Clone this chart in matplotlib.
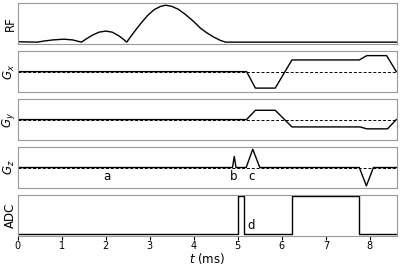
"""Pulse sequence diagram: RF, gradients and ADC."""

import matplotlib
matplotlib.use("Agg")
import matplotlib.pyplot as plt

# RF envelope
rf_t = [0.0, 0.45, 0.6, 0.8, 1.05, 1.25, 1.35, 1.45, 1.55, 1.7, 1.85, 2.0, 2.15,
        2.3, 2.4, 2.48, 2.55, 2.65, 2.8, 2.95, 3.1, 3.25, 3.36, 3.5, 3.65, 3.8,
        3.95, 4.05, 4.15, 4.3, 4.45, 4.6, 4.72, 8.62]
rf_v = [0.01, 0.0, 0.03, 0.06, 0.08, 0.06, 0.03, 0.0, 0.08, 0.19, 0.27, 0.30, 0.27,
        0.17, 0.08, 0.0, 0.12, 0.28, 0.51, 0.72, 0.88, 0.97, 1.0, 0.97, 0.89, 0.76,
        0.61, 0.50, 0.38, 0.25, 0.14, 0.05, 0.0, 0.0]

gx_t = [0.0, 5.2, 5.4, 5.85, 6.23, 7.76, 7.93, 8.38, 8.6]
gx_v = [0.0, 0.0, -1.03, -1.03, 0.73, 0.73, 1.0, 1.0, 0.0]

gy_t = [0.0, 5.2, 5.4, 5.85, 6.23, 7.78, 7.93, 8.4, 8.6]
gy_v = [0.0, 0.0, 0.58, 0.58, -0.46, -0.46, -0.58, -0.58, 0.0]

gz_t = [0.0, 4.88, 4.92, 4.96, 5.19, 5.34, 5.50, 7.76, 7.92, 8.08, 8.62]
gz_v = [0.0, 0.0, 0.69, 0.0, 0.0, 1.14, 0.0, 0.0, -1.15, 0.0, 0.0]

adc_t = [0.0, 5.0, 5.13, 6.23, 7.76, 8.62]
adc_v = [0, 1, 0, 1, 0, 0]

labels = ["RF", "$G_x$", "$G_y$", "$G_z$", "ADC"]
t_max = 8.62

fig, axes = plt.subplots(5, 1, figsize=(4.0, 2.66), dpi=100, sharex=True)
fig.subplots_adjust(left=0.044, right=0.993, top=0.988, bottom=0.113, hspace=0.17)

axes[0].plot(rf_t, rf_v, color="black", lw=1)
axes[0].set_ylim(-0.055, 1.055)

for ax, t, v in zip(axes[1:4], [gx_t, gy_t, gz_t], [gx_v, gy_v, gz_v]):
    ax.plot(t, v, color="black", lw=1)
    ax.axhline(0, color="black", lw=0.7, ls=(0, (3, 2)))
    ax.set_ylim(-1.28, 1.28)

axes[4].step(adc_t, adc_v, where="post", color="black", lw=1)
axes[4].set_ylim(-0.055, 1.04)

axes[3].text(2.03, -0.55, "a", ha="center", va="center", fontsize=8.5)
axes[3].text(4.90, -0.55, "b", ha="center", va="center", fontsize=8.5)
axes[3].text(5.32, -0.55, "c", ha="center", va="center", fontsize=8.5)
axes[4].text(5.31, 0.22, "d", ha="center", va="center", fontsize=8.5)

for ax, lab in zip(axes, labels):
    ax.set_xlim(0, t_max)
    ax.set_yticks([])
    ax.set_ylabel(lab, fontsize=8.5, labelpad=0.5)
    for sp in ax.spines.values():
        sp.set_color("0.6")
    ax.tick_params(axis="x", length=0)

axes[4].tick_params(axis="x", length=3, labelsize=7, pad=1)
axes[4].set_xticks(range(9))
axes[4].set_xlabel("$t$ (ms)", fontsize=8.5, labelpad=0)

plt.savefig("out.png")
plt.close()
